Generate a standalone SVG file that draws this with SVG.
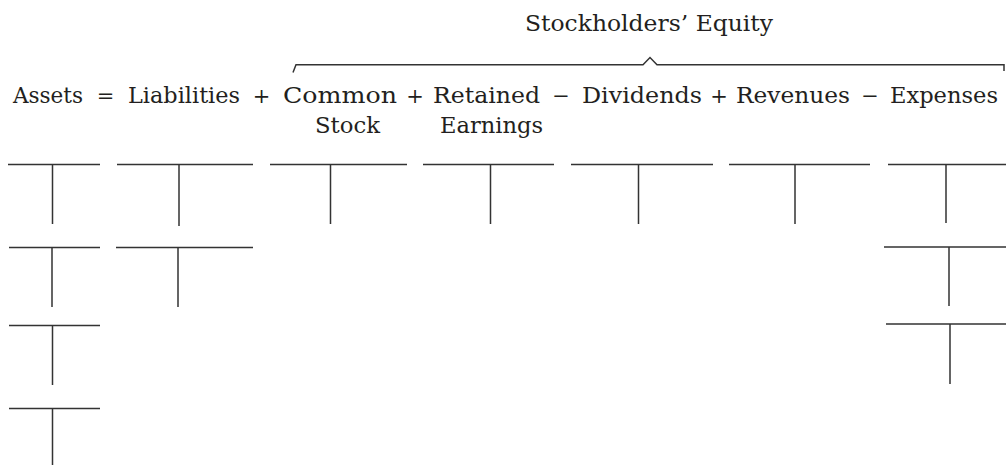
<svg xmlns="http://www.w3.org/2000/svg" width="1006" height="466" viewBox="0 0 1006 466">
  <style>
    .t { font-family: "DejaVu Serif", "Liberation Serif", serif; font-size: 22px; fill: #231f20; }
    .op { font-family: "DejaVu Serif", "Liberation Serif", serif; font-size: 21px; fill: #231f20; text-anchor: middle; }
    .ln { stroke: #333; stroke-width: 1.5; fill: none; }
  </style>
  <rect width="1006" height="466" fill="#fff"/>

  <!-- equity heading and brace -->
  <g id="equity-heading">
    <text class="t" x="525" y="31" textLength="248" lengthAdjust="spacingAndGlyphs">Stockholders’ Equity</text>
    <path class="ln" d="M293 72.5 L296 64.8 L643 64.8 L650 57.5 L657 64.8 L1004 64.8 L1004 71"/>
  </g>

  <!-- accounting equation -->
  <g id="equation">
    <text class="t" x="13" y="103" textLength="70" lengthAdjust="spacingAndGlyphs">Assets</text>
    <text class="op" x="105.5" y="103">=</text>
    <text class="t" x="128" y="103" textLength="112" lengthAdjust="spacingAndGlyphs">Liabilities</text>
    <text class="op" x="261.5" y="103">+</text>
    <text class="t" x="283" y="103" textLength="114" lengthAdjust="spacingAndGlyphs">Common</text>
    <text class="t" x="315" y="133" textLength="65" lengthAdjust="spacingAndGlyphs">Stock</text>
    <text class="op" x="415" y="103">+</text>
    <text class="t" x="433" y="103" textLength="107" lengthAdjust="spacingAndGlyphs">Retained</text>
    <text class="t" x="440" y="133" textLength="103" lengthAdjust="spacingAndGlyphs">Earnings</text>
    <text class="op" x="561" y="103">−</text>
    <text class="t" x="582" y="103" textLength="120" lengthAdjust="spacingAndGlyphs">Dividends</text>
    <text class="op" x="719" y="103">+</text>
    <text class="t" x="736" y="103" textLength="114" lengthAdjust="spacingAndGlyphs">Revenues</text>
    <text class="op" x="870" y="103">−</text>
    <text class="t" x="890" y="103" textLength="108" lengthAdjust="spacingAndGlyphs">Expenses</text>
  </g>

  <!-- T-accounts -->
  <g id="assets-accounts">
    <path class="ln" d="M8 164.5 H100 M52.5 164.5 V224"/>
    <path class="ln" d="M9 247.5 H100 M52 247.5 V307"/>
    <path class="ln" d="M9 325.5 H100 M52.5 325.5 V385"/>
    <path class="ln" d="M9 408.5 H100 M52.5 408.5 V465"/>
  </g>
  <g id="liabilities-accounts">
    <path class="ln" d="M117 164.5 H253 M179 164.5 V226"/>
    <path class="ln" d="M116 247.5 H253 M178 247.5 V307"/>
  </g>
  <g id="common-stock-account">
    <path class="ln" d="M270 164.5 H407 M330.5 164.5 V224"/>
  </g>
  <g id="retained-earnings-account">
    <path class="ln" d="M423 164.5 H554 M490.5 164.5 V224"/>
  </g>
  <g id="dividends-account">
    <path class="ln" d="M571 164.5 H713 M638.5 164.5 V224"/>
  </g>
  <g id="revenues-account">
    <path class="ln" d="M729 164.5 H870 M795 164.5 V224"/>
  </g>
  <g id="expenses-accounts">
    <path class="ln" d="M888 164.5 H1006 M946 164.5 V223"/>
    <path class="ln" d="M884 247 H1006 M949 247 V306"/>
    <path class="ln" d="M886 324 H1006 M950 324 V384"/>
  </g>
</svg>
